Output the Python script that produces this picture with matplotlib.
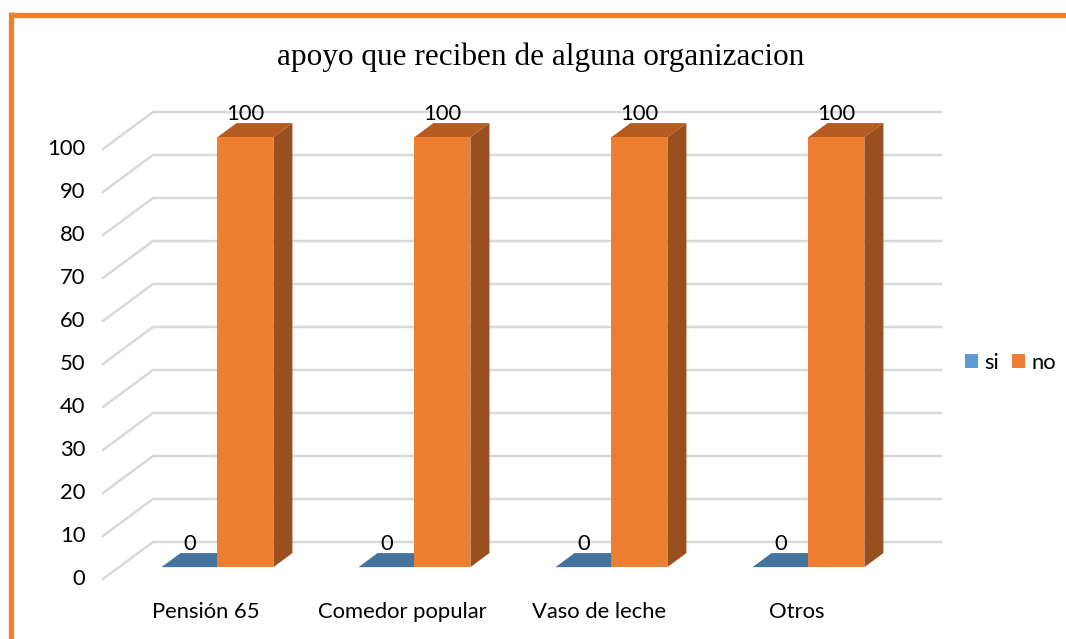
import matplotlib
matplotlib.use("Agg")
import matplotlib.pyplot as plt
from matplotlib.patches import Polygon, Rectangle
from matplotlib.lines import Line2D

# ---- data ----
categories = ["Pensión 65", "Comedor popular", "Vaso de leche", "Otros"]
si_values = [0, 0, 0, 0]
no_values = [100, 100, 100, 100]
y_ticks = [0, 10, 20, 30, 40, 50, 60, 70, 80, 90, 100]
title = "apoyo que reciben de alguna organizacion"

# ---- styling ----
ORANGE = "#ED7D31"
ORANGE_TOP = "#B55C22"
ORANGE_SIDE = "#9A4F1E"
BLUE = "#5B9BD5"
BLUE_TOP = "#44739E"
BLUE_SIDE = "#3A6690"
GRID = "#D9D9D9"
FONT = "Lato"
FS = 15.8

# oblique projection of the depth axis (in data units per full floor depth)
DEPTH_X = 0.254
DEPTH_Y = 8.6
BAR_W = 0.284
BAR_D0, BAR_D1 = 0.32, 0.70   # bar front / back depth as fraction of floor


def proj(x, y, d):
    return (x + d * DEPTH_X, y + d * DEPTH_Y)


def box(ax, x0, x1, v, front, top, side, z):
    """Draw a 3-D looking bar from x0..x1, height v."""
    d0, d1 = BAR_D0, BAR_D1
    # side face
    ax.add_patch(Polygon([proj(x1, 0, d0), proj(x1, 0, d1), proj(x1, v, d1), proj(x1, v, d0)],
                         closed=True, facecolor=side, edgecolor="none", zorder=z))
    # top face
    ax.add_patch(Polygon([proj(x0, v, d0), proj(x1, v, d0), proj(x1, v, d1), proj(x0, v, d1)],
                         closed=True, facecolor=top, edgecolor="none", zorder=z))
    # front face
    if v > 0:
        ax.add_patch(Polygon([proj(x0, 0, d0), proj(x1, 0, d0), proj(x1, v, d0), proj(x0, v, d0)],
                             closed=True, facecolor=front, edgecolor="none", zorder=z + 0.1))


fig = plt.figure(figsize=(10.66, 6.39), dpi=100)
ax = fig.add_axes([0.0781, 0.0603, 0.8131, 0.7873])
ax.set_xlim(-0.6, 3.8)
ax.set_ylim(-5, 112)
ax.axis("off")

n = len(categories)
x_left, x_right = -0.5, n - 0.5

# gridlines: oblique on the side wall, horizontal on the back wall
for t in y_ticks:
    p0 = proj(x_left, t, 0)
    p1 = proj(x_left, t, 1)
    p2 = proj(x_right, t, 1)
    ax.plot([p0[0], p1[0], p2[0]], [p0[1], p1[1], p2[1]], color=GRID, lw=1.8,
            solid_joinstyle="miter", zorder=1)
    ax.text(x_left - 0.09, t, str(t), ha="right", va="center", fontsize=FS,
            family=FONT, color="#000000")

# bars and value labels
for i, cat in enumerate(categories):
    xs0, xs1 = i - BAR_W, i
    xn0, xn1 = i, i + BAR_W
    box(ax, xs0, xs1, si_values[i], BLUE, BLUE_TOP, BLUE_SIDE, 3)
    box(ax, xn0, xn1, no_values[i], ORANGE, ORANGE_TOP, ORANGE_SIDE, 4)

    for (a, b, v) in [(xs0, xs1, si_values[i]), (xn0, xn1, no_values[i])]:
        cx = proj((a + b) / 2, v, BAR_D0)[0]
        ty = proj(a, v, BAR_D1)[1]
        ax.text(cx, ty - 0.3, str(v), ha="center", va="bottom", fontsize=FS,
                family=FONT, color="#000000", zorder=5)

    ax.text(i + 0.02, -7.6, cat, ha="center", va="center", fontsize=FS,
            family=FONT, color="#000000", clip_on=False)

# title
fig.text(0.507, 0.91, title, ha="center", va="center", fontsize=22.5,
         family="Liberation Serif", color="#000000")

# legend
handles = [Rectangle((0, 0), 1, 1, facecolor=BLUE, edgecolor="none"),
           Rectangle((0, 0), 1, 1, facecolor=ORANGE, edgecolor="none")]
fig.legend(handles, ["si", "no"], loc="center", bbox_to_anchor=(0.948, 0.432),
           ncol=2, frameon=False, handlelength=0.6, handleheight=0.6,
           handletextpad=0.3, columnspacing=0.6,
           prop={"family": FONT, "size": FS})

# outer frame (top and left edges visible)
fig.add_artist(Line2D([10.5 / 1066, 1.0], [1 - 14.5 / 639, 1 - 14.5 / 639],
                      transform=fig.transFigure, color="#F08030", lw=3.8,
                      solid_capstyle="butt"))
fig.add_artist(Line2D([10.5 / 1066, 10.5 / 1066], [0.0, 1 - 12 / 639],
                      transform=fig.transFigure, color="#F08030", lw=3.8,
                      solid_capstyle="butt"))

fig.savefig("out.png", dpi=100, facecolor="white")
